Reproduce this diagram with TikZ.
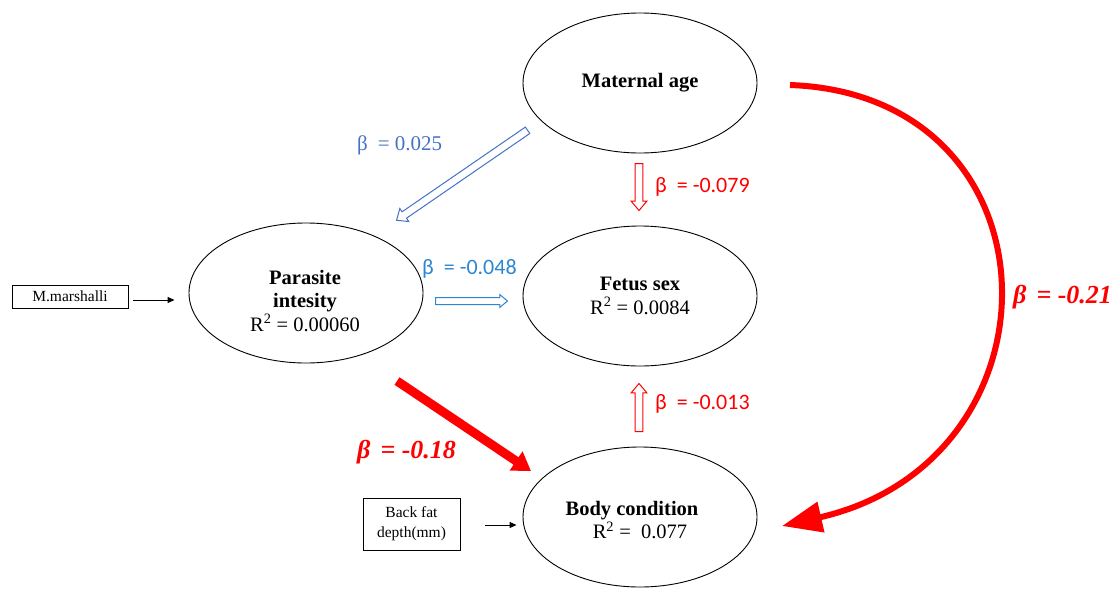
\documentclass[tikz,border=0pt]{standalone}
\usepackage{fontspec}
\setmainfont{Liberation Serif}
\newfontfamily\calib{Carlito}
\usetikzlibrary{shapes.geometric,shapes.arrows,arrows.meta}
\definecolor{redc}{RGB}{255,0,0}
\definecolor{blueA}{RGB}{68,114,196}
\definecolor{blueB}{RGB}{46,134,210}
\begin{document}
\begin{tikzpicture}[x=1pt,y=-1pt,
  ell/.style={ellipse,draw,line width=0.9pt,minimum width=234pt,minimum height=140pt,inner sep=0pt,align=center,font=\fontsize{20.5}{23.5}\selectfont},
  txt/.style={inner sep=0pt,align=center,font=\fontsize{20.5}{23.5}\selectfont},
  smallbox/.style={draw,line width=0.8pt,inner sep=0pt,align=center,font=\fontsize{15.5}{20}\selectfont},
  hollow/.style={single arrow,draw=#1,line width=1pt,fill=white,inner xsep=0pt,inner ysep=3.4pt,single arrow head extend=4pt,single arrow head indent=0pt,single arrow tip angle=80,sloped,allow upside down,pos=0,anchor=tail},
  thinarrow/.style={line width=1pt,-{Triangle[length=7pt,width=6pt]}},
  sanslab/.style={inner sep=0pt,anchor=west,font=\calib\fontsize{22}{24}\selectfont},
  serlab/.style={inner sep=0pt,anchor=west,font=\fontsize{21}{24}\selectfont},
  biglab/.style={inner sep=0pt,anchor=west,text=redc,font=\bfseries\itshape\fontsize{26}{28}\selectfont}
]
\useasboundingbox (0,0) rectangle (1118,592);

% ellipses
\node[ell] (mat) at (640,83) {\textbf{Maternal age}};
\node[ell] (par) at (306,293) {};
\node[txt] (partxt) at (305,301) {\textbf{Parasite}\\\textbf{intesity}\\R\textsuperscript{2} = 0.00060};
\node[ell] (fet) at (640,296) {\textbf{Fetus sex}\\R\textsuperscript{2} = 0.0084};
\node[ell] (body) at (640,517) {};
\node[txt] (bodytxt) at (640,520) {\hbox{\textbf{Body condition}\kern16pt}\\R\textsuperscript{2} =\ \ 0.077};

% boxes
\node[smallbox,minimum width=116pt,minimum height=23pt] (mm) at (70,296.5) {M.marshalli};
\node[smallbox,minimum width=97pt,minimum height=52pt] (bf) at (411.5,524) {Back fat\\depth(mm)};

\draw[thinarrow] ([xshift=5pt,yshift=-3.5pt]mm.east) -- ([xshift=-14pt,yshift=-7pt]par.west);
\draw[thinarrow] ([xshift=25pt,yshift=-1pt]bf.east) -- ([xshift=-6pt,yshift=-8pt]body.west);

% hollow arrows
\path ([shift={(-112,47)}]mat.center) -- ([shift={(91,-73)}]par.center)
  node[hollow=blueA,minimum height=159pt] (a1) {};
\path ([shift={(-1,80)}]mat.center) -- ([shift={(-1,-86)}]fet.center)
  node[hollow=redc,minimum height=47pt] (a2) {};
\path ([shift={(129,8)}]par.center) -- ([shift={(-133,5)}]fet.center)
  node[hollow=blueB,minimum height=72pt,inner ysep=3pt,single arrow head extend=3pt] (a3) {};
\path ([shift={(-1,-85)}]body.center) -- ([shift={(-1,88)}]fet.center)
  node[hollow=redc,minimum height=48pt] (a4) {};

% thick red arrows
\draw[redc,line width=9pt,-{Triangle[length=18pt,width=22pt]}] ([shift={(91,88)}]par.center) -- ([shift={(-109,-46)}]body.center);
\draw[redc,line width=6pt,-{Triangle[length=40pt,width=30pt]}] ([shift={(150,2)}]mat.center) .. controls (1065,95) and (1070,460) .. ([shift={(142,9)}]body.center);

% labels
\node[serlab,text=blueA] (l025) at (357,145) {β\hspace{10pt}= 0.025};
\node[sanslab,text=redc] (l079) at (655,187) {β\hspace{10pt}= -0.079};
\node[sanslab,text=blueB] (l048) at (422,269) {β\hspace{10pt}= -0.048};
\node[sanslab,text=redc] (l013) at (655,404) {β\hspace{10pt}= -0.013};
\node[biglab] (l18) at (357,452) {β\hspace{10pt}= -0.18};
\node[biglab] (l21) at (1013,297) {β\hspace{10pt}= -0.21};
\end{tikzpicture}
\end{document}
